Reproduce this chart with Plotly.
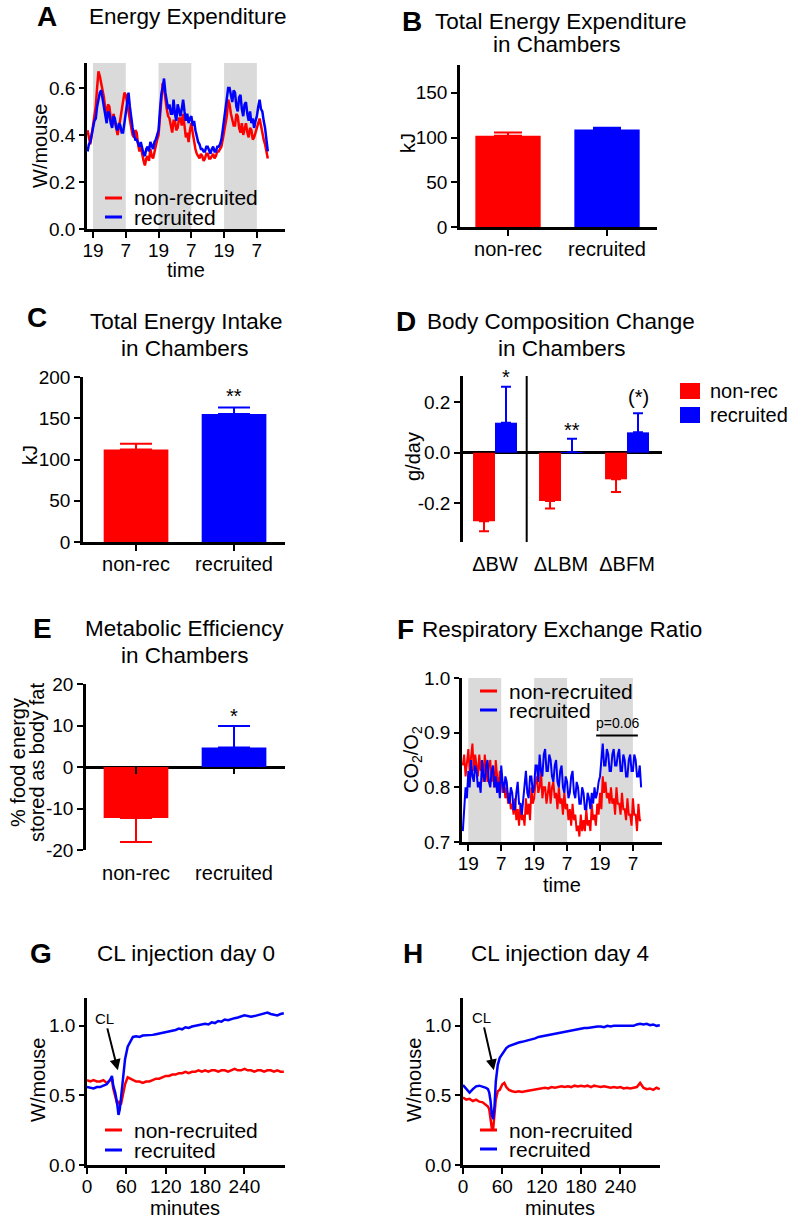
import plotly.graph_objects as go

W, H = 790, 1224
FONT = "Arial, 'Liberation Sans', Helvetica, sans-serif"
RED, BLUE, GRAY, BLACK = "#ff0000", "#0000ff", "#dadada", "#000000"

# ---------------- data ----------------
series_names = ["non-recruited", "recruited"]
bar_groups = ["non-rec", "recruited"]
dark_phases = [(0, 12), (24, 36), (48, 60)]
clock_tickvals = [0, 12, 24, 36, 48, 60]
clock_ticktext = ["19", "7", "19", "7", "19", "7"]

# A: energy expenditure (W/mouse), every 30 min from -2 h to 64 h (0 = 19:00)
ee_hours = [k / 2 for k in range(-4, 129)]
ee_nonrec = [0.42, 0.39, 0.36, 0.40, 0.44, 0.48, 0.52, 0.60, 0.67, 0.65,
             0.62, 0.58, 0.56, 0.51, 0.49, 0.53, 0.52, 0.47, 0.44, 0.49,
             0.46, 0.42, 0.40, 0.43, 0.47, 0.51, 0.55, 0.58, 0.57, 0.53,
             0.49, 0.45, 0.43, 0.40, 0.39, 0.42, 0.41, 0.36, 0.33, 0.35,
             0.31, 0.29, 0.27, 0.30, 0.31, 0.29, 0.34, 0.31, 0.30, 0.33,
             0.36, 0.38, 0.40, 0.47, 0.56, 0.62, 0.60, 0.55, 0.51, 0.48,
             0.47, 0.44, 0.41, 0.46, 0.46, 0.42, 0.43, 0.47, 0.47, 0.44,
             0.49, 0.44, 0.39, 0.41, 0.37, 0.42, 0.45, 0.41, 0.37, 0.34,
             0.32, 0.31, 0.30, 0.32, 0.31, 0.29, 0.30, 0.32, 0.32, 0.30,
             0.30, 0.31, 0.32, 0.30, 0.31, 0.33, 0.33, 0.34, 0.35, 0.38,
             0.42, 0.46, 0.48, 0.55, 0.53, 0.49, 0.47, 0.44, 0.44, 0.49,
             0.48, 0.43, 0.41, 0.45, 0.40, 0.43, 0.45, 0.41, 0.39, 0.43,
             0.42, 0.38, 0.39, 0.41, 0.43, 0.46, 0.47, 0.44, 0.40, 0.38,
             0.36, 0.33, 0.30]
ee_rec = [0.33, 0.36, 0.37, 0.41, 0.43, 0.46, 0.47, 0.52, 0.56, 0.58,
          0.59, 0.55, 0.52, 0.48, 0.45, 0.50, 0.49, 0.45, 0.43, 0.48,
          0.47, 0.43, 0.42, 0.45, 0.44, 0.41, 0.41, 0.45, 0.49, 0.54,
          0.58, 0.52, 0.47, 0.43, 0.40, 0.38, 0.38, 0.36, 0.35, 0.37,
          0.34, 0.32, 0.31, 0.34, 0.35, 0.33, 0.37, 0.35, 0.34, 0.37,
          0.38, 0.40, 0.42, 0.50, 0.57, 0.60, 0.64, 0.58, 0.54, 0.51,
          0.53, 0.49, 0.49, 0.55, 0.49, 0.46, 0.53, 0.50, 0.48, 0.51,
          0.55, 0.50, 0.46, 0.49, 0.45, 0.47, 0.48, 0.44, 0.46, 0.42,
          0.39, 0.37, 0.36, 0.34, 0.34, 0.33, 0.33, 0.35, 0.35, 0.33,
          0.32, 0.34, 0.35, 0.33, 0.33, 0.35, 0.35, 0.36, 0.38, 0.42,
          0.46, 0.51, 0.56, 0.60, 0.60, 0.56, 0.54, 0.59, 0.58, 0.52,
          0.50, 0.56, 0.57, 0.51, 0.48, 0.53, 0.54, 0.49, 0.46, 0.50,
          0.45, 0.47, 0.43, 0.46, 0.48, 0.52, 0.55, 0.51, 0.50, 0.46,
          0.43, 0.38, 0.33]

# B: total energy expenditure (kJ)
tee_mean = [102, 109]
tee_sem = [3.5, 1.8]

# C: total energy intake (kJ)
tei_mean = [112, 155]
tei_sem = [7, 8]
tei_sig = ["", "**"]

# D: body composition change (g/day)
bc_cats = ["ΔBW", "ΔLBM", "ΔBFM"]
bc_nonrec_mean = [-0.27, -0.19, -0.105]
bc_nonrec_sem = [0.04, 0.03, 0.05]
bc_rec_mean = [0.118, 0.002, 0.08]
bc_rec_sem = [0.142, 0.053, 0.075]
bc_sig = ["*", "**", "(*)"]

# E: metabolic efficiency (%)
me_mean = [-12.3, 4.7]
me_sem = [5.8, 5.2]
me_sig = ["", "*"]

# F: respiratory exchange ratio, every 30 min from -2 h to 63 h
rer_hours = [k / 2 for k in range(-4, 127)]
rer_nonrec = [0.84, 0.86, 0.82, 0.85, 0.87, 0.83, 0.85, 0.88, 0.83, 0.86,
              0.84, 0.82, 0.86, 0.83, 0.85, 0.81, 0.86, 0.83, 0.81, 0.84,
              0.85, 0.81, 0.83, 0.80, 0.85, 0.82, 0.80, 0.83, 0.82, 0.79,
              0.81, 0.78, 0.80, 0.77, 0.79, 0.76, 0.77, 0.75, 0.78, 0.74,
              0.76, 0.73, 0.77, 0.74, 0.75, 0.73, 0.78, 0.75, 0.77, 0.74,
              0.80, 0.77, 0.78, 0.81, 0.82, 0.79, 0.80, 0.83, 0.78, 0.80,
              0.80, 0.77, 0.79, 0.81, 0.77, 0.80, 0.81, 0.78, 0.79, 0.76,
              0.80, 0.77, 0.78, 0.75, 0.79, 0.76, 0.77, 0.74, 0.76, 0.73,
              0.77, 0.74, 0.75, 0.72, 0.73, 0.71, 0.75, 0.72, 0.74, 0.72,
              0.76, 0.73, 0.74, 0.72, 0.77, 0.74, 0.75, 0.73, 0.77, 0.75,
              0.79, 0.76, 0.82, 0.79, 0.81, 0.78, 0.79, 0.77, 0.80, 0.77,
              0.78, 0.75, 0.80, 0.77, 0.77, 0.75, 0.79, 0.76, 0.76, 0.74,
              0.78, 0.75, 0.75, 0.73, 0.78, 0.75, 0.75, 0.72, 0.77, 0.74,
              0.74]
rer_rec = [0.72, 0.76, 0.80, 0.78, 0.83, 0.80, 0.85, 0.82, 0.81, 0.84,
           0.83, 0.80, 0.81, 0.79, 0.85, 0.82, 0.81, 0.84, 0.85, 0.81,
           0.80, 0.83, 0.84, 0.80, 0.82, 0.79, 0.81, 0.78, 0.84, 0.81,
           0.79, 0.82, 0.81, 0.78, 0.77, 0.80, 0.79, 0.76, 0.76, 0.79,
           0.81, 0.77, 0.77, 0.75, 0.78, 0.81, 0.83, 0.79, 0.78, 0.82,
           0.82, 0.79, 0.80, 0.84, 0.84, 0.81, 0.86, 0.83, 0.82, 0.86,
           0.87, 0.83, 0.83, 0.86, 0.85, 0.82, 0.81, 0.84, 0.85, 0.81,
           0.80, 0.83, 0.84, 0.80, 0.79, 0.82, 0.81, 0.78, 0.79, 0.82,
           0.83, 0.79, 0.78, 0.81, 0.80, 0.77, 0.77, 0.80, 0.79, 0.76,
           0.76, 0.79, 0.78, 0.76, 0.79, 0.77, 0.80, 0.78, 0.79, 0.81,
           0.82, 0.85, 0.88, 0.84, 0.84, 0.87, 0.86, 0.83, 0.83, 0.86,
           0.87, 0.84, 0.84, 0.86, 0.87, 0.83, 0.83, 0.86, 0.85, 0.82,
           0.82, 0.85, 0.86, 0.83, 0.83, 0.86, 0.85, 0.82, 0.82, 0.84,
           0.80]
rer_p_span = (46.6, 61.8)
rer_p_level = 0.895
rer_p_label = "p=0.06"

# G: CL injection day 0 (W/mouse)
cl0_minutes = [0, 5, 10, 15, 20, 25, 30, 35, 38, 40, 43, 46, 48, 50, 52, 55, 58, 62, 66] + list(range(70, 305, 5))
cl0_nonrec = [0.61, 0.60, 0.61, 0.60, 0.60, 0.61, 0.59, 0.61, 0.62, 0.55,
              0.50, 0.44, 0.46, 0.43, 0.44, 0.52, 0.58, 0.63, 0.62,
              0.61, 0.60, 0.60, 0.59, 0.60, 0.60, 0.61, 0.62, 0.62, 0.63,
              0.64, 0.64, 0.65, 0.65, 0.66, 0.66, 0.67, 0.66, 0.67, 0.67,
              0.68, 0.67, 0.68, 0.67, 0.68, 0.68, 0.67, 0.68, 0.68, 0.67,
              0.68, 0.69, 0.68, 0.68, 0.69, 0.68, 0.68, 0.67, 0.68, 0.68,
              0.67, 0.68, 0.68, 0.67, 0.68, 0.67, 0.67]
cl0_rec = [0.56, 0.555, 0.55, 0.56, 0.56, 0.57, 0.58, 0.61, 0.64, 0.57,
           0.52, 0.44, 0.36, 0.40, 0.50, 0.64, 0.76, 0.85, 0.89,
           0.92, 0.925, 0.92, 0.93, 0.93, 0.935, 0.935, 0.94, 0.945, 0.95,
           0.955, 0.955, 0.965, 0.97, 0.98, 0.975, 0.99, 0.985, 0.995, 1.0,
           1.005, 1.01, 1.015, 1.01, 1.025, 1.02, 1.035, 1.03, 1.045, 1.04,
           1.05, 1.055, 1.06, 1.065, 1.075, 1.07, 1.065, 1.07, 1.075, 1.08,
           1.09, 1.095, 1.085, 1.08, 1.075, 1.085, 1.09]

# H: CL injection day 4 (W/mouse)
cl4_minutes = [0, 5, 10, 15, 20, 25, 30, 35, 38, 40, 42, 44, 46, 48, 50, 53, 56, 60, 63, 66] + list(range(70, 305, 5))
cl4_nonrec = [0.485, 0.47, 0.475, 0.46, 0.47, 0.455, 0.45, 0.43, 0.42, 0.40,
              0.33, 0.26, 0.26, 0.35, 0.47, 0.53, 0.54, 0.58, 0.59, 0.56,
              0.54, 0.53, 0.525, 0.53, 0.525, 0.53, 0.535, 0.54, 0.545, 0.55,
              0.55, 0.555, 0.55, 0.56, 0.555, 0.56, 0.565, 0.56, 0.565, 0.56,
              0.57, 0.565, 0.57, 0.565, 0.57, 0.56, 0.57, 0.565, 0.56, 0.565,
              0.56, 0.555, 0.56, 0.555, 0.56, 0.55, 0.555, 0.55, 0.555, 0.56,
              0.59, 0.555, 0.545, 0.55, 0.54, 0.555, 0.545]
cl4_rec = [0.575, 0.545, 0.52, 0.545, 0.565, 0.57, 0.565, 0.555, 0.545, 0.52,
           0.46, 0.36, 0.33, 0.42, 0.60, 0.72, 0.77, 0.80, 0.825, 0.84,
           0.855, 0.865, 0.875, 0.88, 0.885, 0.89, 0.895, 0.90, 0.91, 0.92,
           0.925, 0.93, 0.935, 0.94, 0.945, 0.95, 0.955, 0.96, 0.965, 0.97,
           0.975, 0.975, 0.98, 0.985, 0.985, 0.99, 0.99, 0.995, 0.995, 0.99,
           1.0, 0.995, 1.0, 1.0, 1.005, 1.0, 1.0, 1.005, 1.0, 1.01,
           1.015, 1.01, 1.015, 1.005, 1.01, 1.0, 1.005]
cl_arrow_target = (47, 0.68)

for a, b in [(ee_hours, ee_nonrec), (ee_hours, ee_rec), (rer_hours, rer_nonrec), (rer_hours, rer_rec),
             (cl0_minutes, cl0_nonrec), (cl0_minutes, cl0_rec), (cl4_minutes, cl4_nonrec), (cl4_minutes, cl4_rec)]:
    assert len(a) == len(b), (len(a), len(b))

# ---------------- figure ----------------
fig = go.Figure()
annotations, shapes = [], []
layout = dict(width=W, height=H, margin=dict(l=0, r=0, t=0, b=0, pad=0, autoexpand=False),
              autosize=False, paper_bgcolor="white", plot_bgcolor="rgba(0,0,0,0)",
              showlegend=False, barmode="overlay",
              font=dict(family=FONT, color=BLACK))


def ids(i):
    s = "" if i == 1 else str(i)
    return "x" + s, "y" + s, "xaxis" + s, "yaxis" + s


def add_axes(i, xdom, ydom, xr, yr, xkw=None, ykw=None):
    xid, yid, xn, yn = ids(i)
    base = dict(showline=True, linecolor=BLACK, linewidth=2.5, ticks="outside",
                ticklen=6, tickwidth=2, tickcolor=BLACK, showgrid=False,
                zeroline=False, fixedrange=True, automargin=False,
                tickfont=dict(size=19, family=FONT, color=BLACK))
    xa = dict(base, domain=[xdom[0] / W, xdom[1] / W], range=xr, anchor=yid, ticklabelstandoff=-4)
    ya = dict(base, domain=[1 - ydom[1] / H, 1 - ydom[0] / H], range=yr, anchor=xid)
    xa.update(xkw or {})
    ya.update(ykw or {})
    layout[xn] = xa
    layout[yn] = ya


def text(x, y, s, size, anchor="center", angle=0):
    annotations.append(dict(x=x / W, y=1 - y / H, xref="paper", yref="paper", text=s,
                            showarrow=False, xanchor=anchor, yanchor="middle",
                            textangle=angle, font=dict(size=size, family=FONT, color=BLACK)))


def legend_lines(x0, x1, y_first, y_second, tx):
    for (yy, col, name) in [(y_first, RED, series_names[0]), (y_second, BLUE, series_names[1])]:
        shapes.append(dict(type="line", xref="paper", yref="paper", x0=x0 / W, x1=x1 / W,
                           y0=1 - yy / H, y1=1 - yy / H, line=dict(color=col, width=3)))
        text(tx, yy, name, 21, anchor="left")


def dark_bands(i):
    xid, yid, _, _ = ids(i)
    for a, b in dark_phases:
        shapes.append(dict(type="rect", xref=xid, yref=yid + " domain", x0=a, x1=b, y0=0, y1=1,
                           fillcolor=GRAY, line=dict(width=0), layer="below"))


def line_traces(i, xs, ys_list, width=3):
    xid, yid, _, _ = ids(i)
    for ys, col, name in zip(ys_list, [RED, BLUE], series_names):
        fig.add_trace(go.Scatter(x=xs, y=ys, mode="lines", name=name, xaxis=xid, yaxis=yid,
                                 line=dict(color=col, width=width), hoverinfo="skip"))


def bar_pair(i, means, sems, capw=15, width=0.66):
    xid, yid, _, _ = ids(i)
    for g, m, s, col in zip(bar_groups, means, sems, [RED, BLUE]):
        fig.add_trace(go.Bar(x=[g], y=[m], xaxis=xid, yaxis=yid, width=width,
                             marker=dict(color=col, line=dict(width=0)),
                             error_y=dict(type="data", symmetric=False,
                                          array=[s if m >= 0 else 0], arrayminus=[s if m < 0 else 0],
                                          color=col, thickness=2, width=capw)))


# ---- A ----
add_axes(1, (87, 285), (63, 229), [-2.2, 70.3], [0, 0.706],
         xkw=dict(tickvals=clock_tickvals, ticktext=clock_ticktext),
         ykw=dict(dtick=0.2, tick0=0, tickformat=".1f", ticklen=5))
dark_bands(1)
line_traces(1, ee_hours, [ee_nonrec, ee_rec], width=2.5)
text(47, 17, "<b>A</b>", 28)
text(87, 17, "Energy Expenditure", 22.5, anchor="left")
text(40, 146, "W/mouse", 20, angle=-90)
text(186, 270, "time", 20)
legend_lines(105, 122, 198, 217, 132)

# ---- B ----
add_axes(2, (460, 657), (65, 227), [-0.485, 1.505], [0, 181],
         xkw=dict(type="category", tickfont=dict(size=20, family=FONT, color=BLACK)),
         ykw=dict(dtick=50, tick0=0))
bar_pair(2, tee_mean, tee_sem, capw=14)
text(412, 21, "<b>B</b>", 28)
text(433, 21, "Total Energy Expenditure", 22.5, anchor="left")
text(557, 45, "in Chambers", 22.5)
text(408, 143, "kJ", 20, angle=-90)

# ---- C ----
add_axes(3, (83, 285), (377, 542), [-0.541, 1.52], [0, 200],
         xkw=dict(type="category", tickfont=dict(size=20, family=FONT, color=BLACK)),
         ykw=dict(dtick=50, tick0=0))
bar_pair(3, tei_mean, tei_sem, capw=16)
for g, m, s, sig in zip(bar_groups, tei_mean, tei_sem, tei_sig):
    if sig:
        annotations.append(dict(x=g, y=m + s, xref="x3", yref="y3", text=sig, showarrow=False,
                                yanchor="middle", yshift=12, font=dict(size=20, family=FONT, color=BLACK)))
text(37, 318, "<b>C</b>", 28)
text(186, 322, "Total Energy Intake", 22.5)
text(185, 348, "in Chambers", 22.5)
text(30, 455, "kJ", 20, angle=-90)

# ---- D ----
d_xr = [-0.485, 2.53]
add_axes(4, (463, 662), (376, 542), d_xr, [-0.352, 0.302],
         xkw=dict(type="category", showline=False, ticks="", ticklabelstandoff=8,
                  tickfont=dict(size=20, family=FONT, color=BLACK)),
         ykw=dict(tickvals=[-0.2, 0, 0.2], ticktext=["-0.2", "0.0", "0.2"],
                  zeroline=True, zerolinecolor=BLACK, zerolinewidth=2.5))
for means, sems, col, off, name in [(bc_nonrec_mean, bc_nonrec_sem, RED, -0.333, "non-rec"),
                                    (bc_rec_mean, bc_rec_sem, BLUE, 0.0, "recruited")]:
    fig.add_trace(go.Bar(x=bc_cats, y=means, xaxis="x4", yaxis="y4", width=0.333, offset=off, name=name,
                         marker=dict(color=col, line=dict(width=0)),
                         error_y=dict(type="data", symmetric=False,
                                      array=[s if m >= 0 else 0 for m, s in zip(means, sems)],
                                      arrayminus=[s if m < 0 else 0 for m, s in zip(means, sems)],
                                      color=col, thickness=2, width=5)))
sep_frac = (0.48 - d_xr[0]) / (d_xr[1] - d_xr[0])
shapes.append(dict(type="line", xref="x4 domain", yref="y4 domain", x0=sep_frac, x1=sep_frac,
                   y0=0, y1=1, line=dict(color=BLACK, width=2)))
for k, (c, m, s, sig) in enumerate(zip(bc_cats, bc_rec_mean, bc_rec_sem, bc_sig)):
    annotations.append(dict(x=k + 0.167, y=m + s, xref="x4", yref="y4", text=sig, showarrow=False,
                            yanchor="middle", yshift=[10, 9, 16][k],
                            font=dict(size=20, family=FONT, color=BLACK)))
text(406, 322, "<b>D</b>", 28)
text(561, 322, "Body Composition Change", 22.5)
text(562, 348, "in Chambers", 22.5)
text(413, 457, "g/day", 20, angle=-90)
for (y0, y1, col, name) in [(383, 399, RED, bar_groups[0]), (407, 423, BLUE, bar_groups[1])]:
    shapes.append(dict(type="rect", xref="paper", yref="paper", x0=680 / W, x1=700 / W,
                       y0=1 - y1 / H, y1=1 - y0 / H, fillcolor=col, line=dict(width=0)))
    text(708, (y0 + y1) / 2, name, 20, anchor="left")

# ---- E ----
add_axes(5, (86, 285), (684, 850), [-0.51, 1.52], [-20, 20],
         xkw=dict(type="category", showline=False, ticks="", ticklabelstandoff=9,
                  tickfont=dict(size=20, family=FONT, color=BLACK)),
         ykw=dict(tickvals=[-20, -10, 0, 10, 20], ticktext=["-20", "-10", "0", "10", "20"],
                  zeroline=True, zerolinecolor=BLACK, zerolinewidth=2.5))
bar_pair(5, me_mean, me_sem, capw=16)
for g in bar_groups:
    shapes.append(dict(type="line", xref="x5", yref="y5", x0=g, x1=g, ysizemode="pixel",
                       yanchor=0, y0=0, y1=-7, line=dict(color=BLACK, width=2)))
for g, m, s, sig in zip(bar_groups, me_mean, me_sem, me_sig):
    if sig:
        annotations.append(dict(x=g, y=m + s, xref="x5", yref="y5", text=sig, showarrow=False,
                                yanchor="middle", yshift=10, font=dict(size=20, family=FONT, color=BLACK)))
text(42, 628, "<b>E</b>", 28)
text(184, 628, "Metabolic Efficiency", 22.5)
text(185, 655, "in Chambers", 22.5)
text(18, 763, "% food energy", 20, angle=-90)
text(37, 763, "stored as body fat", 20, angle=-90)

# ---- F ----
add_axes(6, (462, 662), (678, 842), [-2.3, 70.6], [0.7, 1.0],
         xkw=dict(tickvals=clock_tickvals, ticktext=clock_ticktext),
         ykw=dict(dtick=0.1, tick0=0.7, tickformat=".1f", ticklen=5))
dark_bands(6)
line_traces(6, rer_hours, [rer_nonrec, rer_rec], width=2)
shapes.append(dict(type="line", xref="x6", yref="y6", x0=rer_p_span[0], x1=rer_p_span[1],
                   y0=rer_p_level, y1=rer_p_level, line=dict(color=BLACK, width=2)))
annotations.append(dict(x=sum(rer_p_span) / 2, y=rer_p_level, xref="x6", yref="y6", text=rer_p_label,
                        showarrow=False, yanchor="bottom", yshift=2,
                        font=dict(size=14, family=FONT, color=BLACK)))
text(406, 630, "<b>F</b>", 28)
text(420, 630, "Respiratory Exchange Ratio", 22.5, anchor="left")
text(412, 760, "CO<sub>2</sub>/O<sub>2</sub>", 20, angle=-90)
text(562, 885, "time", 20)
legend_lines(480, 497, 691, 710, 507)

# ---- G ----
add_axes(7, (87, 285), (998, 1165), [0, 301.8], [0, 1.2],
         xkw=dict(tickvals=[0, 60, 120, 180, 240]),
         ykw=dict(tickvals=[0, 0.5, 1.0], tickformat=".1f", ticklen=5))
line_traces(7, cl0_minutes, [cl0_nonrec, cl0_rec], width=2.5)
annotations.append(dict(x=cl_arrow_target[0], y=cl_arrow_target[1], xref="x7", yref="y7", text="CL",
                        showarrow=True, ax=-13, ay=-52, arrowhead=2, arrowsize=1.1, arrowwidth=2,
                        arrowcolor=BLACK, font=dict(size=15, family=FONT, color=BLACK)))
text(41, 953, "<b>G</b>", 28)
text(186, 953, "CL injection day 0", 22.5)
text(38, 1080, "W/mouse", 20, angle=-90)
text(185, 1208, "minutes", 20)
legend_lines(105, 122, 1130, 1150, 132)

# ---- H ----
add_axes(8, (463, 660), (998, 1165), [0, 300.3], [0, 1.2],
         xkw=dict(tickvals=[0, 60, 120, 180, 240]),
         ykw=dict(tickvals=[0, 0.5, 1.0], tickformat=".1f", ticklen=5))
line_traces(8, cl4_minutes, [cl4_nonrec, cl4_rec], width=2.5)
annotations.append(dict(x=cl_arrow_target[0], y=cl_arrow_target[1], xref="x8", yref="y8", text="CL",
                        showarrow=True, ax=-12, ay=-53, arrowhead=2, arrowsize=1.1, arrowwidth=2,
                        arrowcolor=BLACK, font=dict(size=15, family=FONT, color=BLACK)))
text(413, 953, "<b>H</b>", 28)
text(560, 953, "CL injection day 4", 22.5)
text(414, 1080, "W/mouse", 20, angle=-90)
text(560, 1208, "minutes", 20)
legend_lines(480, 497, 1130, 1149, 507)

layout["annotations"] = annotations
layout["shapes"] = shapes
fig.update_layout(**layout)
fig.write_html("out.html", config={"responsive": False, "displayModeBar": False},
               post_script="document.body.style.margin='0';document.body.style.overflow='hidden';")
